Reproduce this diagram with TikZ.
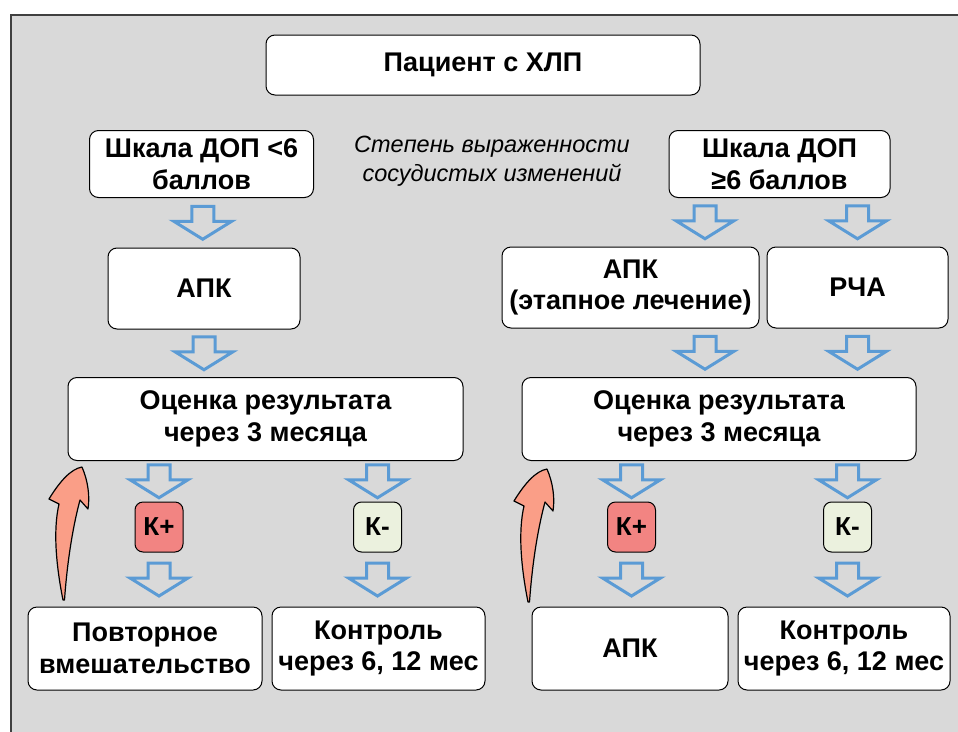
\documentclass[tikz,border=0pt]{standalone}
\usepackage{fontspec}
\setmainfont{Liberation Sans}
\usetikzlibrary{calc}
\definecolor{bg}{HTML}{D9D9D9}
\definecolor{frame}{HTML}{404040}
\definecolor{arrblue}{HTML}{5B9BD5}
\definecolor{kplus}{HTML}{F28482}
\definecolor{kminus}{HTML}{EBF1DE}
\definecolor{salmon}{HTML}{FA9E87}
\begin{document}
\begin{tikzpicture}[x=1pt,y=-1pt,
  box/.style={draw=black, line width=1pt, fill=white, rounded corners=9pt, align=center,
    font=\bfseries\fontsize{27}{31.5}\selectfont, inner sep=0pt},
  kbox/.style={draw=black, line width=1pt, rounded corners=8pt, minimum width=48pt,
    minimum height=50pt, font=\bfseries\fontsize{26}{30}\selectfont, inner sep=0pt},
  blockarr/.style={draw=arrblue, line width=3pt, fill=bg, line join=miter},
  curvearr/.style={draw=black, line width=1.2pt, fill=salmon, line join=round},
  barrow/.pic={\draw[blockarr] (-11,-16.5) -- (11,-16.5) -- (11,-1.5) -- (29,-1.5) -- (0,16.5) -- (-29,-1.5) -- (-11,-1.5) -- cycle;},
  retarrow/.pic={\draw[curvearr] (0,0) .. controls (-7,-35) and (-10,-70) .. (-4,-96) -- (-14,-101)
     .. controls (-3,-119) and (8,-131) .. (19,-133)
     .. controls (25,-119) and (27,-104) .. (25,-91) -- (17,-100)
     .. controls (9,-70) and (4,-35) .. (1.5,0) -- cycle;}
]
\useasboundingbox (0,0) rectangle (958,731);
\draw[frame, line width=2pt, fill=bg] (11,15) rectangle (975,750);

% boxes
\node[box, minimum width=434pt, minimum height=60pt] (pat) at (483,65) {Пациент с ХЛП};
\node[box, minimum width=224pt, minimum height=67pt] (shkL) at (201.5,164) {Шкала ДОП <6\\баллов};
\node[box, minimum width=221pt, minimum height=67pt] (shkR) at (779.5,164) {Шкала ДОП\\≥6 баллов};
\node[font=\itshape\fontsize{23.5}{29}\selectfont, align=center, inner sep=0pt] (deg) at (492,161) {Степень выраженности\\сосудистых изменений};

\node[box, minimum width=192pt, minimum height=81pt] (apkL) at (204,288.5) {АПК};
\node[box, minimum width=257pt, minimum height=81pt] (apk2) at (630.5,287.5) {АПК\\(этапное лечение)};
\node[box, minimum width=181pt, minimum height=81pt] (rcha) at (857.5,287.5) {РЧА};

\node[box, minimum width=395pt, minimum height=83pt] (ocL) at (265.5,419) {Оценка результата\\через 3 месяца};
\node[box, minimum width=394pt, minimum height=83pt] (ocR) at (719,419) {Оценка результата\\через 3 месяца};

\node[kbox, fill=kplus] (kpL) at (159,527) {К+};
\node[kbox, fill=kminus] (kmL) at (377.5,527) {К-};
\node[kbox, fill=kplus] (kpR) at (631.5,527) {К+};
\node[kbox, fill=kminus] (kmR) at (847.5,527) {К-};

\node[box, minimum width=234pt, minimum height=83pt] (povt) at (145,648.5) {Повторное\\вмешательство};
\node[box, minimum width=213pt, minimum height=83pt] (kontL) at (378.5,648.5) {Контроль\\через 6, 12 мес};
\node[box, minimum width=196pt, minimum height=83pt] (apk3) at (630,648.5) {АПК};
\node[box, minimum width=212pt, minimum height=83pt] (kontR) at (844,648.5) {Контроль\\через 6, 12 мес};

% block arrows
\pic at ($(shkL.south)!.5!(apkL.north)$) {barrow};
\coordinate (r1a) at ($(apk2.north)!.5!(shkR.south)$);
\pic at (r1a) {barrow};
\pic at ($(rcha.north)!.5!(rcha.north |- shkR.south)$) {barrow};

\pic at ($(apkL.south)!.5!(apkL.south |- ocL.north)$) {barrow};
\pic at ($(r1a |- apk2.south)!.5!(r1a |- ocR.north)$) {barrow};
\pic at ($(rcha.south)!.5!(rcha.south |- ocR.north)$) {barrow};

\foreach \k/\o in {kpL/ocL, kmL/ocL, kpR/ocR, kmR/ocR}{
  \pic at ($(\k.north)!.5!(\k.north |- \o.south)$) {barrow};
}
\foreach \k/\b in {kpL/povt, kmL/kontL, kpR/apk3, kmR/kontR}{
  \pic at ($(\k.south)!.5!(\k.south |- \b.north)$) {barrow};
}

% return arrows
\coordinate (tailL) at (63,600);
\coordinate (tailR) at (528,602);
\pic at (tailL) {retarrow};
\pic at (tailR) {retarrow};
\end{tikzpicture}
\end{document}
